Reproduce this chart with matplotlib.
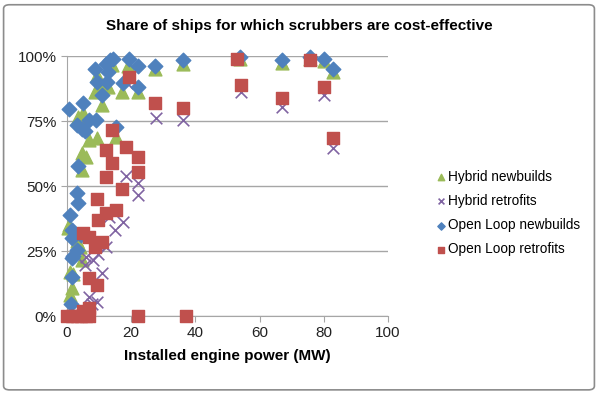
import matplotlib.pyplot as plt
from matplotlib.patches import FancyBboxPatch
from matplotlib.ticker import FuncFormatter

plt.rcParams['font.family'] = ['Liberation Sans', 'DejaVu Sans']

# Hybrid newbuilds
hyb_new_x = [0.3, 1, 1.5, 3, 4, 4.6, 3.4, 4.6, 6, 4.6, 7, 9.2, 15.4, 5, 9.2, 8.6, 10.8,
             11, 12.7, 17, 22, 13.9, 19, 27.5, 36, 54, 67, 75.6, 80, 82.7, 0.5, 2, 1]
hyb_new_y = [34, 17, 10.8, 29, 26.6, 21.5, 76.5, 56, 61, 62.7, 67.7, 68.5, 69, 78, 92.6, 86, 81,
             88, 88, 86, 86, 96.5, 96, 95, 97, 99, 97.5, 99, 98, 94, 35, 16, 8]

# Hybrid retrofits
hyb_ret_x = [18.8, 18.5, 22, 22, 27.8, 36, 54.3, 67, 80, 82.7, 17.3, 14.8, 12.3, 9.6, 8,
             10.8, 9.2, 7, 5.6, 6, 11, 13, 7.7]
hyb_ret_y = [89.6, 54, 51, 46.5, 76, 75.4, 86, 80.5, 85, 64.5, 36, 33, 26.6, 24, 21.5,
             16.5, 5.4, 7.3, 19.6, 22.7, 28, 38, 4.6]

# Open Loop newbuilds
ol_new_x = [0.6, 5, 8.6, 9.2, 10.8, 12.6, 12.3, 13.3, 14.2, 12.7, 17.3, 19.4, 22.2, 22,
            27.5, 36, 54, 67, 75.6, 80, 82.7, 3, 4.6, 5.6, 7, 9, 15.4, 3.4, 3, 3.4, 1,
            1.5, 1.5, 3, 1.5, 1.5, 1.3, 2, 4.5]
ol_new_y = [79.6, 82, 95, 90, 85, 90, 97, 98.5, 99, 94, 89.6, 99, 96, 88,
            96, 98.5, 99.5, 98.5, 99.5, 99, 95, 73.5, 72, 71, 75.4, 75.4, 72.7, 57.7, 47.3, 43.5, 38.8,
            33, 30, 25.4, 22.3, 15, 4.6, 23, 31]

# Open Loop retrofits
ol_ret_x = [19.4, 27.5, 36, 13.9, 12.3, 18.5, 22, 13.9, 12.3, 22, 17, 9.2, 15.4, 12.3, 9.6,
            5, 7, 10.8, 8.6, 7, 9.2, 52.8, 54.3, 67, 75.6, 80, 82.7,
            0, 1.5, 3, 4.5, 6, 7, 22, 37, 5, 7]
ol_ret_y = [92, 82, 80, 71.5, 64, 65, 61, 59, 53.6, 55.5, 49, 45, 40.8, 39.6, 37,
            32, 30.5, 28.5, 26.6, 14.6, 12, 99, 89, 84, 98.5, 88, 68.5,
            0, 0, 0, 0, 0, 0, 0, 0, 2, 3]

fig = plt.figure(figsize=(5.98, 3.95), dpi=100)
ax = fig.add_axes([0.112, 0.2, 0.537, 0.658])

ax.scatter(hyb_new_x, hyb_new_y, marker='^', s=85, color='#9BBB59', label='Hybrid newbuilds',
           zorder=3, clip_on=False)
ax.scatter(hyb_ret_x, hyb_ret_y, marker='x', s=70, color='#8064A2', linewidths=1.2,
           label='Hybrid retrofits', zorder=4, clip_on=False)
ax.scatter(ol_new_x, ol_new_y, marker='D', s=55, color='#4F81BD', label='Open Loop newbuilds',
           zorder=5, clip_on=False)
ax.scatter(ol_ret_x, ol_ret_y, marker='s', s=85, color='#C0504D', label='Open Loop retrofits',
           zorder=6, clip_on=False)

ax.set_xlim(0, 100)
ax.set_ylim(0, 100)
ax.set_xticks([0, 20, 40, 60, 80, 100])
ax.set_yticks([0, 25, 50, 75, 100])
ax.yaxis.set_major_formatter(FuncFormatter(lambda v, p: f'{int(v)}%'))
ax.grid(axis='y', color='#A6A6A6', linewidth=1)
ax.set_axisbelow(True)
for s in ['top', 'right']:
    ax.spines[s].set_visible(False)
for s in ['left', 'bottom']:
    ax.spines[s].set_color('#A6A6A6')
ax.tick_params(axis='both', colors='#A6A6A6', labelcolor='#222222', labelsize=11, length=4)
ax.set_xlabel('Installed engine power (MW)', fontsize=11, fontweight='bold', labelpad=6)

fig.text(0.5, 0.935, 'Share of ships for which scrubbers are cost-effective',
         ha='center', va='center', fontsize=11, fontweight='bold')

ax.legend(loc='center left', bbox_to_anchor=(1.13, 0.396), frameon=False, fontsize=9.8,
          markerscale=0.5, handlelength=0.8, handletextpad=0.15, labelspacing=0.75,
          borderaxespad=0)

border = FancyBboxPatch((0.006, 0.013), 0.988, 0.975, boxstyle='round,pad=0,rounding_size=0.01',
                        transform=fig.transFigure, fill=False, edgecolor='#8C8C8C', linewidth=1.2)
fig.patches.append(border)

fig.savefig('out.png', dpi=100)
